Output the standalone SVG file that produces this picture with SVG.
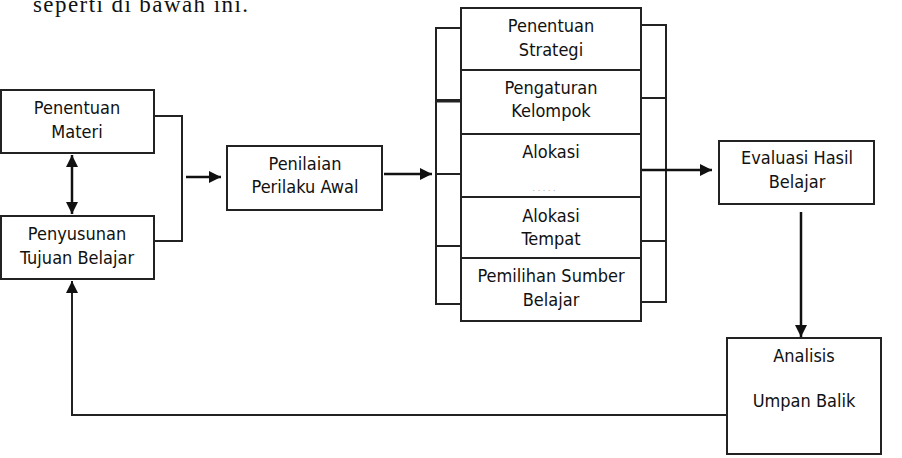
<svg xmlns="http://www.w3.org/2000/svg" width="902" height="458" viewBox="0 0 902 458">
<defs>
<style>
.box{fill:#fff;stroke:#222;stroke-width:2}
.t{font-family:"DejaVu Sans Condensed","DejaVu Sans",sans-serif;font-stretch:condensed;font-size:18px;fill:#111;text-anchor:middle}
.ln{fill:none;stroke:#222;stroke-width:2}
.ar{fill:none;stroke:#111;stroke-width:2.5}
</style>
<marker id="ah" markerUnits="userSpaceOnUse" markerWidth="13" markerHeight="12" refX="12" refY="6" orient="auto-start-reverse">
<path d="M0,0 L12,6 L0,12 z" fill="#111"/>
</marker>
</defs>
<rect width="902" height="458" fill="#fff"/>
<text x="33" y="12" font-family="Liberation Serif, serif" font-size="23" textLength="215" fill="#111">seperti di bawah ini.</text>

<g id="connectors">
<path class="ln" d="M154,116 H182 V241 H154"/>
<path class="ar" d="M72,155 V214" marker-start="url(#ah)" marker-end="url(#ah)"/>
<path class="ar" d="M186,177 H221" marker-end="url(#ah)"/>
<path class="ar" d="M384,174 H432" marker-end="url(#ah)"/>
<path class="ln" d="M472,28 H436 V304 H484"/>
<path class="ln" d="M484,100 H436"/>
<path class="ln" d="M472,101.5 H436" stroke-width="1.5"/>
<path class="ln" d="M484,174 H436"/>
<path class="ln" d="M484,246 H436"/>
<path class="ln" d="M640,25 H666 V302 H630"/>
<path class="ln" d="M630,98 H666"/>
<path class="ln" d="M630,241 H666"/>
<path class="ar" d="M630,170 H712" marker-end="url(#ah)"/>
<path class="ar" d="M801,212 V337" marker-end="url(#ah)"/>
<path class="ln" d="M727,415 H72 V281" marker-end="url(#ah)" stroke-width="2.5"/>
</g>

<g id="penentuan-materi">
<rect class="box" x="1" y="90" width="153" height="63"/>
<text class="t" x="77" y="114">Penentuan</text>
<text class="t" x="77" y="138">Materi</text>
</g>
<g id="penyusunan-tujuan">
<rect class="box" x="1" y="216" width="153" height="63"/>
<text class="t" x="77" y="240">Penyusunan</text>
<text class="t" x="77" y="264">Tujuan Belajar</text>
</g>
<g id="penilaian">
<rect class="box" x="227" y="146" width="155" height="64"/>
<text class="t" x="305" y="170">Penilaian</text>
<text class="t" x="305" y="193">Perilaku Awal</text>
</g>
<g id="strategi-column">
<rect class="box" x="461" y="8" width="180" height="313"/>
<path class="ln" d="M461,70 H641 M461,134 H641 M461,197 H641 M461,258 H641"/>
</g>
<g id="penentuan-strategi">
<text class="t" x="551" y="32">Penentuan</text>
<text class="t" x="551" y="56">Strategi</text>
</g>
<g id="pengaturan-kelompok">
<text class="t" x="551" y="94">Pengaturan</text>
<text class="t" x="551" y="117">Kelompok</text>
</g>
<g id="alokasi-waktu">
<text class="t" x="551" y="158">Alokasi</text>
<text x="544" y="191" font-family="DejaVu Sans, sans-serif" font-size="8" fill="#aaa" text-anchor="middle">. . . .   .</text>
</g>
<g id="alokasi-tempat">
<text class="t" x="551" y="222">Alokasi</text>
<text class="t" x="551" y="245">Tempat</text>
</g>
<g id="pemilihan-sumber">
<text class="t" x="551" y="282">Pemilihan Sumber</text>
<text class="t" x="551" y="306">Belajar</text>
</g>
<g id="evaluasi">
<rect class="box" x="719" y="141" width="155" height="63"/>
<text class="t" x="797" y="164">Evaluasi Hasil</text>
<text class="t" x="797" y="188">Belajar</text>
</g>
<g id="analisis">
<rect class="box" x="727" y="338" width="154" height="116"/>
<text class="t" x="804" y="362">Analisis</text>
<text class="t" x="804" y="407">Umpan Balik</text>
</g>
</svg>
